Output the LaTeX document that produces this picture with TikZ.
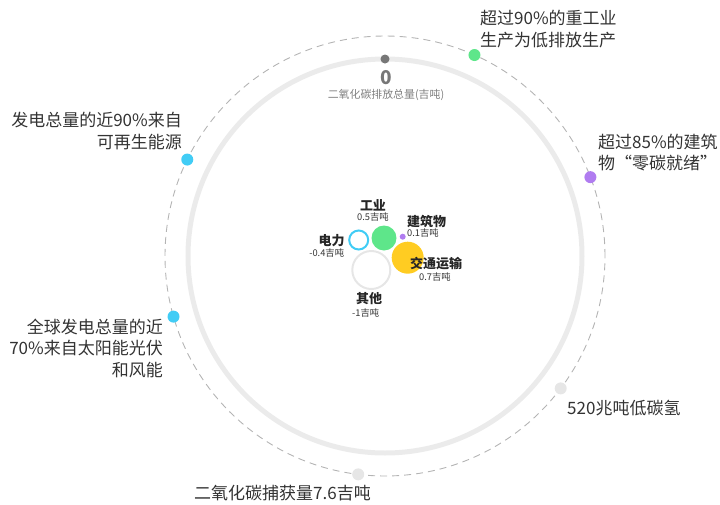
\documentclass[tikz,border=0pt]{standalone}
\usepackage{fontspec}
\setmainfont{Noto Sans CJK SC}
\definecolor{ringgray}{HTML}{EBEBEB}
\definecolor{dashgray}{HTML}{B4B4B4}
\definecolor{dotgray}{HTML}{E6E6E6}
\definecolor{topgray}{HTML}{777777}
\definecolor{textgray}{HTML}{333333}
\definecolor{greenc}{HTML}{5EE68A}
\definecolor{purplec}{HTML}{B07CF0}
\definecolor{bluec}{HTML}{41CCF5}
\definecolor{yellowc}{HTML}{FFCC22}
\tikzset{
  dot/.style={circle, inner sep=0pt, minimum size=12pt},
  note/.style={font=\fontsize{17}{21.5}\selectfont, text=textgray, inner sep=0pt},
  sector/.style={font=\bfseries\fontsize{13}{14}\selectfont, text=black!85, inner sep=0pt},
  amount/.style={font=\fontsize{9.3}{10}\selectfont, text=textgray, inner sep=0pt},
}
\begin{document}
\begin{tikzpicture}[x=1pt, y=1pt]
      \useasboundingbox (-385,-248) rectangle (335,256);
      \draw[ringgray, line width=5pt] (0,0) circle (197);
      \draw[dashgray, line width=0.9pt, dash pattern=on 7pt off 5pt] (0,0) circle (220);
      % outer milestones
      \draw
        (66:220) node[dot, fill=greenc] (heavy){}
        (21:220) node[dot, fill=purplec] (build){}
        (-37:220) node[dot, fill=dotgray] (hydro){}
        (-97:220) node[dot, fill=dotgray] (capture){}
        (196:220) node[dot, fill=bluec] (solar){}
        (154:220) node[dot, fill=bluec] (renew){};
      \node[note, anchor=west, align=left] (heavytxt) at (95,227) {超过90\%的重工业\\生产为低排放生产};
      \node[note, anchor=west, align=left] (buildtxt) at (213,103.5) {超过85\%的建筑\\物“零碳就绪”};
      \node[note, anchor=west] (hydrotxt) at (182,-152) {520兆吨低碳氢};
      \node[note, anchor=west] (capturetxt) at (-191,-237) {二氧化碳捕获量7.6吉吨};
      \node[note, anchor=east, align=right] (solartxt) at (-222,-92) {全球发电总量的近\\70\%来自太阳能光伏\\和风能};
      \node[note, anchor=east, align=right] (renewtxt) at (-203,125) {发电总量的近90\%来自\\可再生能源};
      % top marker
      \node[circle, inner sep=0pt, minimum size=9pt, fill=topgray] (top) at (90:197) {};
      \node[font=\bfseries\fontsize{19}{22}\selectfont, text=topgray, inner sep=0pt] (zero) at (1,178.5) {0};
      \node[font=\fontsize{10.9}{12}\selectfont, text=black!50, inner sep=0pt] (unit) at (1,161) {二氧化碳排放总量(吉吨)};
      % sector bubbles
      \node[circle, inner sep=0pt, minimum size=25pt, fill=greenc] (ind) at (-1,18) {};
      \node[circle, inner sep=0pt, minimum size=19pt, draw=bluec, line width=2pt] (pow) at (-26.3,16) {};
      \node[circle, inner sep=0pt, minimum size=6pt, fill=purplec] (bld) at (17.7,19.3) {};
      \node[circle, inner sep=0pt, minimum size=32pt, fill=yellowc] (trn) at (22.7,-1.7) {};
      \node[circle, inner sep=0pt, minimum size=38pt, draw=dotgray, line width=2pt] (oth) at (-13.7,-14) {};
      \node[sector] (indname) at (-12,51) {工业};
      \node[amount] (indval) at (-12,39) {0.5吉吨};
      \node[sector] (bldname) at (41.7,34.3) {建筑物};
      \node[amount] (bldval) at (38,23) {0.1吉吨};
      \node[sector] (powname) at (-53.3,15.3) {电力};
      \node[amount] (powval) at (-58.3,3) {-0.4吉吨};
      \node[sector] (trnname) at (51,-8) {交通运输};
      \node[amount] (trnval) at (50,-21) {0.7吉吨};
      \node[sector] (othname) at (-16,-43) {其他};
      \node[amount] (othval) at (-19.3,-56.7) {-1吉吨};
    \end{tikzpicture}
\end{document}
